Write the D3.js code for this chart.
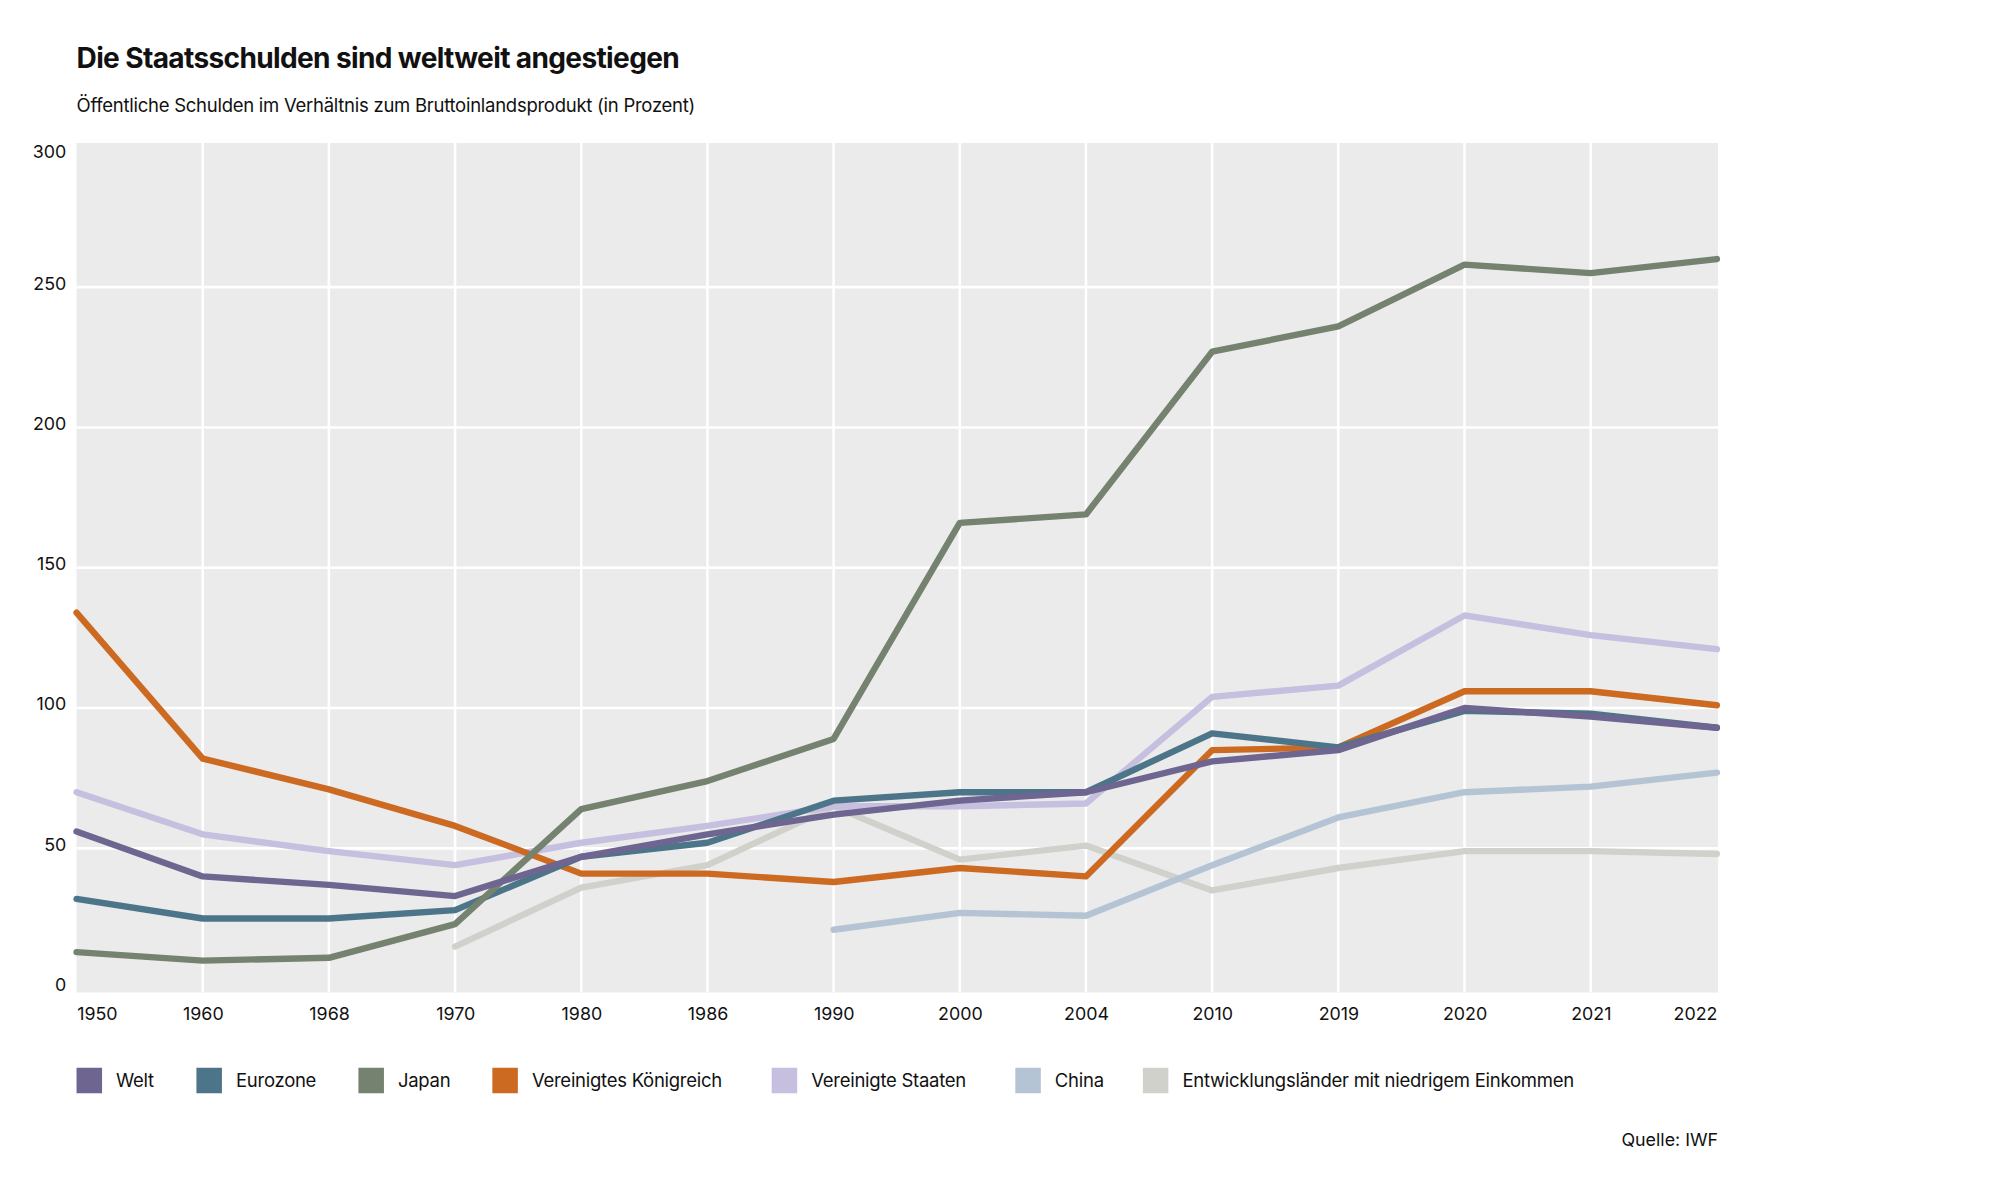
<!DOCTYPE html>
<html><head><meta charset="utf-8">
<script src="https://cdn.jsdelivr.net/npm/d3@7"></script>
<style>body{margin:0;background:#fff;font-family:Inter,"Noto Sans",sans-serif}</style>
</head><body>
<script>
// categories (years) and series values, percent of GDP
const years = ['1950','1960','1968','1970','1980','1986','1990','2000','2004','2010','2019','2020','2021','2022']
const welt = [56,40,37,33,47,55,62,67,70,81,85,100,97,93]
const eurozone = [32,25,25,28,47,52,67,70,70,91,86,99,98,93]
const japan = [13,10,11,23,64,74,89,166,169,227,236,258,255,260]
const uk = [134,82,71,58,41,41,38,43,40,85,86,106,106,101]
const usa = [70,55,49,44,52,58,65,65,66,104,108,133,126,121]
const china = [null,null,null,null,null,null,21,27,26,44,61,70,72,77]
const lowIncome = [null,null,null,15,36,44,65,46,51,35,43,49,49,48]
const yTicks = [0,50,100,150,200,250,300]

const series = [
  {name: 'Welt', values: welt, color: '#6e6590'},
  {name: 'Eurozone', values: eurozone, color: '#4d7589'},
  {name: 'Japan', values: japan, color: '#75826f'},
  {name: 'Vereinigtes Königreich', values: uk, color: '#cc6a22'},
  {name: 'Vereinigte Staaten', values: usa, color: '#c6bfdf'},
  {name: 'China', values: china, color: '#b5c4d4'},
  {name: 'Entwicklungsländer mit niedrigem Einkommen', values: lowIncome, color: '#d1d1cb'}
]
const drawOrder = [6,5,4,3,1,2,0]

let svg = d3.select('body').append('svg')
    .attr('width', 2000).attr('height', 1198)
    .attr('viewBox', '0 0 1568 939')

svg.append('text').attr('x', 60).attr('y', 53)
    .attr('font-size', 22).attr('font-weight', 700).attr('letter-spacing', -0.5)
    .attr('fill', '#111').text('Die Staatsschulden sind weltweit angestiegen')
svg.append('text').attr('x', 60).attr('y', 88)
    .attr('font-size', 14.5).attr('letter-spacing', -0.2)
    .attr('fill', '#111').text('Öffentliche Schulden im Verhältnis zum Bruttoinlandsprodukt (in Prozent)')

let x = d3.scalePoint().domain(years).range([60, 1346])
let y = d3.scaleLinear().domain([0, 300]).range([775, 115])

svg.append('rect').attr('x', 60).attr('y', 112).attr('width', 1287).attr('height', 666).attr('fill', '#ebebeb')

// vertical grid
svg.append('g').selectAll('line').data(years.slice(1, -1)).enter().append('line')
    .attr('x1', d => x(d)).attr('x2', d => x(d)).attr('y1', 112).attr('y2', 778)
    .attr('stroke', '#fff').attr('stroke-width', 2)
// horizontal grid
svg.append('g').selectAll('line').data(yTicks.slice(1, -1)).enter().append('line')
    .attr('x1', 60).attr('x2', 1347).attr('y1', d => y(d)).attr('y2', d => y(d))
    .attr('stroke', '#fff').attr('stroke-width', 2)

let yAxis = d3.axisLeft(y).tickValues(yTicks).tickSize(0).tickPadding(8)
svg.append('g').attr('transform', 'translate(60,0)').call(yAxis)
    .call(g => g.select('.domain').remove())
    .call(g => g.selectAll('text').attr('font-size', 14).attr('fill', '#111').attr('font-family', 'Inter').attr('dy', '0.1em'))
    .call(g => g.selectAll('.tick').filter(d => d === 300).select('text').attr('dy', '0.6em'))

let xAxis = d3.axisBottom(x).tickSize(0).tickPadding(12)
svg.append('g').attr('transform', 'translate(0,778)').call(xAxis)
    .call(g => g.select('.domain').remove())
    .call(g => g.selectAll('text').attr('font-size', 14).attr('fill', '#111').attr('font-family', 'Inter'))
    .call(g => g.selectAll('.tick').filter(d => d === '1950').select('text').attr('text-anchor', 'start'))
    .call(g => g.selectAll('.tick').filter(d => d === '2022').select('text').attr('text-anchor', 'end'))

let line = d3.line()
    .defined(d => d !== null)
    .x((d, i) => x(years[i]))
    .y(d => y(d))

svg.append('g').selectAll('path').data(drawOrder.map(i => series[i])).enter().append('path')
    .attr('d', d => line(d.values))
    .attr('fill', 'none').attr('stroke', d => d.color)
    .attr('stroke-width', 5).attr('stroke-linejoin', 'round').attr('stroke-linecap', 'round')

// legend
const legendX = [60, 154, 281, 386, 605, 796, 896]
let leg = svg.append('g').selectAll('g').data(series).enter().append('g')
    .attr('transform', (d, i) => `translate(${legendX[i]},837)`)
leg.append('rect').attr('width', 20).attr('height', 20).attr('fill', d => d.color)
leg.append('text').attr('x', 31).attr('y', 15).attr('font-size', 14.5).attr('letter-spacing', -0.2)
    .attr('fill', '#111').text(d => d.name)

svg.append('text').attr('x', 1347).attr('y', 898).attr('text-anchor', 'end')
    .attr('font-size', 14).attr('fill', '#111').text('Quelle:  IWF')
</script>
</body></html>
